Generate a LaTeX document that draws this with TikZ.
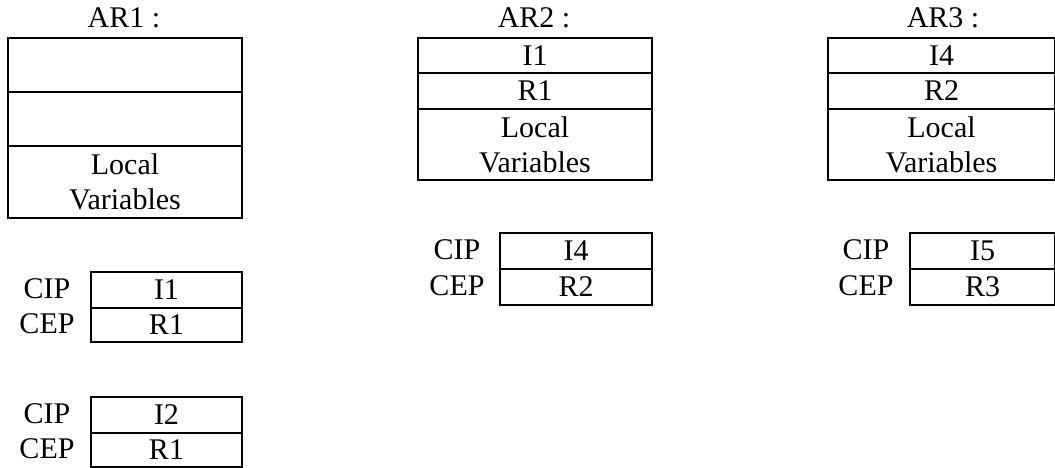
\documentclass[tikz,border=0pt]{standalone}
\usepackage{fontspec}
\setmainfont{Liberation Serif}
\begin{document}
\begin{tikzpicture}[x=1pt,y=-1pt,
  every node/.style={font=\fontsize{30}{35}\selectfont},
  cell/.style={draw, line width=2pt, inner sep=0pt, anchor=north west, align=center},
  title/.style={anchor=base, inner sep=0pt},
  reglabel/.style={anchor=center, inner sep=0pt}]
\useasboundingbox (0,0) rectangle (1055,468);
% AR1
\node[title] (t1) at (124,28) {AR1 :};
\node[cell, minimum width=234pt, minimum height=54pt] (a1r1) at (7,37) {};
\node[cell, minimum width=234pt, minimum height=54pt] (a1r2) at (7,91) {};
\node[cell, minimum width=234pt, minimum height=72pt] (a1r3) at (7,145) {Local\\Variables};
% AR2
\node[title] (t2) at (534,28) {AR2 :};
\node[cell, minimum width=234pt, minimum height=35pt] (a2r1) at (417,37) {I1};
\node[cell, minimum width=234pt, minimum height=36pt] (a2r2) at (417,72) {R1};
\node[cell, minimum width=234pt, minimum height=71pt] (a2r3) at (417,108) {Local\\Variables};
% AR3
\node[title] (t3) at (943,28) {AR3 :};
\node[cell, minimum width=227pt, minimum height=35pt] (a3r1) at (827,37) {I4};
\node[cell, minimum width=227pt, minimum height=36pt] (a3r2) at (827,72) {R2};
\node[cell, minimum width=227pt, minimum height=71pt] (a3r3) at (827,108) {Local\\Variables};
% CIP/CEP table 1
\node[cell, minimum width=151pt, minimum height=36pt] (c1i) at (90,271) {I1};
\node[cell, minimum width=151pt, minimum height=34pt] (c1e) at (90,307) {R1};
\node[reglabel] (l1i) at (47,289) {CIP};
\node[reglabel] (l1e) at (47,324) {CEP};
% CIP/CEP table 2
\node[cell, minimum width=151pt, minimum height=36pt] (c2i) at (90,396) {I2};
\node[cell, minimum width=151pt, minimum height=34pt] (c2e) at (90,432) {R1};
\node[reglabel] (l2i) at (47,414) {CIP};
\node[reglabel] (l2e) at (47,449) {CEP};
% CIP/CEP table 3
\node[cell, minimum width=152pt, minimum height=36pt] (c3i) at (499,232) {I4};
\node[cell, minimum width=152pt, minimum height=36pt] (c3e) at (499,268) {R2};
\node[reglabel] (l3i) at (457,250) {CIP};
\node[reglabel] (l3e) at (457,286) {CEP};
% CIP/CEP table 4
\node[cell, minimum width=145pt, minimum height=36pt] (c4i) at (909,232) {I5};
\node[cell, minimum width=145pt, minimum height=36pt] (c4e) at (909,268) {R3};
\node[reglabel] (l4i) at (866,250) {CIP};
\node[reglabel] (l4e) at (866,286) {CEP};
\end{tikzpicture}
\end{document}
